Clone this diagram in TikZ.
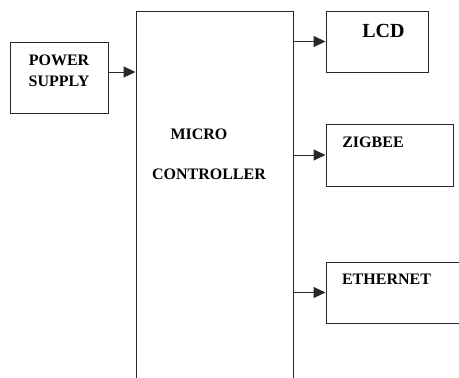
\documentclass[tikz,border=0pt]{standalone}
\usepackage{fontspec}
\setmainfont{Liberation Serif}
\usetikzlibrary{arrows.meta,positioning}
\definecolor{blkline}{RGB}{40,40,40}

\begin{document}
\begin{tikzpicture}[x=1pt,y=-1pt,
    blockbox/.style={draw=blkline, line width=1pt, inner sep=0pt},
    blocktext/.style={font=\fontsize{16}{21}\selectfont\bfseries, inner sep=0pt, align=center},
    feed/.style={draw=blkline, line width=1pt, -{Triangle[length=12pt,width=11pt]}}]
  \useasboundingbox (0,0) rectangle (459,378);
  \clip (0,0) rectangle (459,378);
  % Blocks
  \node[blockbox, minimum width=98pt, minimum height=71pt] (power) at (59,77.5) {};
  \node[blockbox, minimum width=157pt, minimum height=389pt] (micro) at (214.5,205.5) {};
  \node[blockbox, minimum width=102pt, minimum height=61pt] (lcd) at (377,41.5) {};
  \node[blockbox, minimum width=127pt, minimum height=62pt] (zigbee) at (389.5,155) {};
  \node[blockbox, minimum width=144pt, minimum height=61pt] (ethernet) at (398,292.5) {};
  % Labels
  \node[blocktext] (powertxt) at (59,70.5) {POWER\\SUPPLY};
  \node[blocktext] (microtxt) at (199,134) {MICRO};
  \node[blocktext] (ctrltxt) at (209,174) {CONTROLLER};
  \node[blocktext, font=\fontsize{20}{24}\selectfont\bfseries] (lcdtxt) at (383.5,31) {LCD};
  \node[blocktext] (zigtxt) at (373,142) {ZIGBEE};
  \node[blocktext] (ethtxt) at (386.5,279) {ETHERNET};
  % Connections
  \draw[feed] ([yshift=5.5pt]power.east) -- ([yshift=5.5pt]power.east -| micro.west);
  \draw[feed] (micro.east |- lcd.west) -- (lcd.west);
  \draw[feed] (micro.east |- zigbee.west) -- (zigbee.west);
  \draw[feed] (micro.east |- ethernet.west) -- (ethernet.west);
\end{tikzpicture}
\end{document}
